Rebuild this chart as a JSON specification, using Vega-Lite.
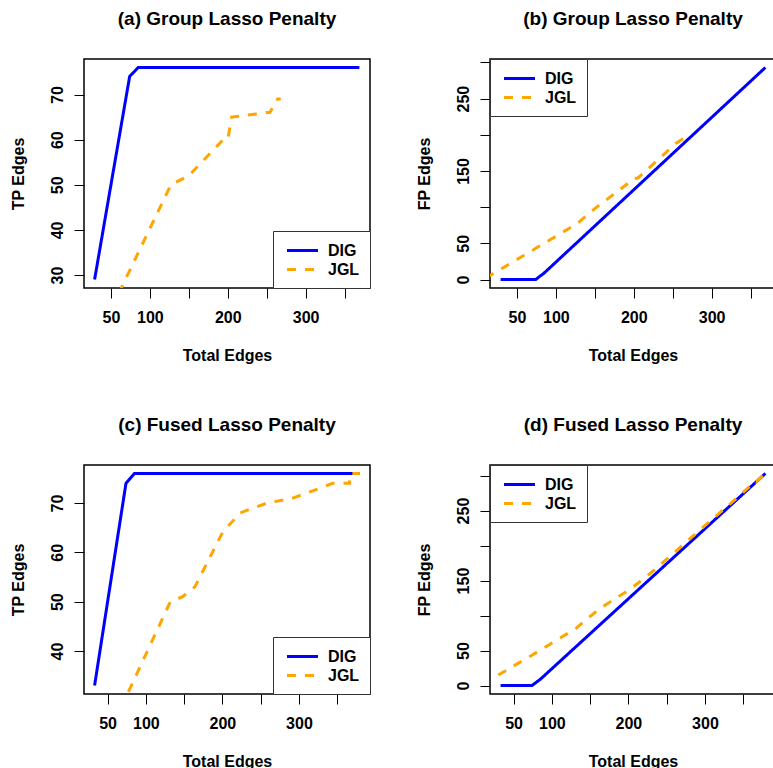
{
  "$schema": "https://vega.github.io/schema/vega-lite/v6.json",
  "padding": {"left": 9, "top": 8, "right": 0, "bottom": 0},
  "background": "white",
  "datasets": {
    "group": [
      {"method": "DIG", "total": 29, "tp": 29, "fp": 0},
      {"method": "DIG", "total": 74, "tp": 74, "fp": 0},
      {"method": "DIG", "total": 85, "tp": 76, "fp": 9},
      {"method": "DIG", "total": 369, "tp": 76, "fp": 293},
      {"method": "JGL", "total": 10, "tp": 8, "fp": 2},
      {"method": "JGL", "total": 127, "tp": 50, "fp": 77},
      {"method": "JGL", "total": 150, "tp": 52, "fp": 98},
      {"method": "JGL", "total": 194, "tp": 60, "fp": 134},
      {"method": "JGL", "total": 200, "tp": 60, "fp": 140},
      {"method": "JGL", "total": 205, "tp": 65, "fp": 140},
      {"method": "JGL", "total": 250, "tp": 66, "fp": 184},
      {"method": "JGL", "total": 254, "tp": 66, "fp": 188},
      {"method": "JGL", "total": 264, "tp": 69, "fp": 195},
      {"method": "JGL", "total": 268, "tp": 69, "fp": 199}
    ],
    "fused": [
      {"method": "DIG", "total": 33, "tp": 33, "fp": 0},
      {"method": "DIG", "total": 74, "tp": 74, "fp": 0},
      {"method": "DIG", "total": 85, "tp": 76, "fp": 9},
      {"method": "DIG", "total": 379, "tp": 76, "fp": 303},
      {"method": "JGL", "total": 30, "tp": 15, "fp": 15},
      {"method": "JGL", "total": 75, "tp": 31, "fp": 44},
      {"method": "JGL", "total": 132, "tp": 50, "fp": 82},
      {"method": "JGL", "total": 148, "tp": 51, "fp": 97},
      {"method": "JGL", "total": 164, "tp": 53, "fp": 111},
      {"method": "JGL", "total": 200, "tp": 64, "fp": 136},
      {"method": "JGL", "total": 223, "tp": 68, "fp": 155},
      {"method": "JGL", "total": 258, "tp": 70, "fp": 188},
      {"method": "JGL", "total": 292, "tp": 71, "fp": 221},
      {"method": "JGL", "total": 327, "tp": 73, "fp": 254},
      {"method": "JGL", "total": 344, "tp": 74, "fp": 270},
      {"method": "JGL", "total": 366, "tp": 74, "fp": 292},
      {"method": "JGL", "total": 367, "tp": 76, "fp": 291},
      {"method": "JGL", "total": 379, "tp": 76, "fp": 303}
    ]
  },
  "columns": 2,
  "spacing": {"row": 177, "column": 120},
  "bounds": "flush",
  "resolve": {
    "scale": {"x": "independent", "y": "independent", "color": "independent", "strokeDash": "independent"},
    "legend": {"color": "independent", "strokeDash": "independent"}
  },
  "concat": [
    {
      "data": {"name": "group"},
      "title": {"text": "(a) Group Lasso Penalty"},
      "width": 286, "height": 229,
      "mark": {"type": "line", "clip": true, "strokeWidth": 3},
      "encoding": {
        "x": {"field": "total", "type": "quantitative", "scale": {"domain": [15.4, 382.6], "nice": false, "zero": false},
              "axis": {"title": "Total Edges", "values": [50, 100, 150, 200, 250, 300, 350], "labelExpr": "datum.value==150||datum.value==250||datum.value==350 ? '' : datum.label"}},
        "y": {"field": "tp", "type": "quantitative", "scale": {"domain": [27.12, 77.88], "nice": false, "zero": false},
              "axis": {"title": "TP Edges", "values": [30, 40, 50, 60, 70]}},
        "color": {"field": "method", "type": "nominal", "scale": {"domain": ["DIG", "JGL"], "range": ["#0000ff", "#ffa500"]}, "legend": {"title": null, "orient": "bottom-right"}},
        "strokeDash": {"field": "method", "type": "nominal", "scale": {"domain": ["DIG", "JGL"], "range": [[1, 0], [9, 9]]}, "legend": {"title": null, "orient": "bottom-right"}}
      }
    },
    {
      "data": {"name": "group"},
      "title": {"text": "(b) Group Lasso Penalty"},
      "width": 286, "height": 229,
      "mark": {"type": "line", "clip": true, "strokeWidth": 3},
      "encoding": {
        "x": {"field": "total", "type": "quantitative", "scale": {"domain": [15.4, 382.6], "nice": false, "zero": false},
              "axis": {"title": "Total Edges", "values": [50, 100, 150, 200, 250, 300, 350], "labelExpr": "datum.value==150||datum.value==250||datum.value==350 ? '' : datum.label"}},
        "y": {"field": "fp", "type": "quantitative", "scale": {"domain": [-11.72, 304.72], "nice": false, "zero": false},
              "axis": {"title": "FP Edges", "values": [0, 50, 100, 150, 200, 250, 300], "labelExpr": "datum.value==100||datum.value==200||datum.value==300 ? '' : datum.label"}},
        "color": {"field": "method", "type": "nominal", "scale": {"domain": ["DIG", "JGL"], "range": ["#0000ff", "#ffa500"]}, "legend": {"title": null, "orient": "top-left"}},
        "strokeDash": {"field": "method", "type": "nominal", "scale": {"domain": ["DIG", "JGL"], "range": [[1, 0], [9, 9]]}, "legend": {"title": null, "orient": "top-left"}}
      }
    },
    {
      "data": {"name": "fused"},
      "title": {"text": "(c) Fused Lasso Penalty"},
      "width": 286, "height": 229,
      "mark": {"type": "line", "clip": true, "strokeWidth": 3},
      "encoding": {
        "x": {"field": "total", "type": "quantitative", "scale": {"domain": [19.16, 392.84], "nice": false, "zero": false},
              "axis": {"title": "Total Edges", "values": [50, 100, 150, 200, 250, 300, 350], "labelExpr": "datum.value==150||datum.value==250||datum.value==350 ? '' : datum.label"}},
        "y": {"field": "tp", "type": "quantitative", "scale": {"domain": [31.28, 77.72], "nice": false, "zero": false},
              "axis": {"title": "TP Edges", "values": [40, 50, 60, 70]}},
        "color": {"field": "method", "type": "nominal", "scale": {"domain": ["DIG", "JGL"], "range": ["#0000ff", "#ffa500"]}, "legend": {"title": null, "orient": "bottom-right"}},
        "strokeDash": {"field": "method", "type": "nominal", "scale": {"domain": ["DIG", "JGL"], "range": [[1, 0], [9, 9]]}, "legend": {"title": null, "orient": "bottom-right"}}
      }
    },
    {
      "data": {"name": "fused"},
      "title": {"text": "(d) Fused Lasso Penalty"},
      "width": 286, "height": 229,
      "mark": {"type": "line", "clip": true, "strokeWidth": 3},
      "encoding": {
        "x": {"field": "total", "type": "quantitative", "scale": {"domain": [19.16, 392.84], "nice": false, "zero": false},
              "axis": {"title": "Total Edges", "values": [50, 100, 150, 200, 250, 300, 350], "labelExpr": "datum.value==150||datum.value==250||datum.value==350 ? '' : datum.label"}},
        "y": {"field": "fp", "type": "quantitative", "scale": {"domain": [-12.12, 315.12], "nice": false, "zero": false},
              "axis": {"title": "FP Edges", "values": [0, 50, 100, 150, 200, 250, 300], "labelExpr": "datum.value==100||datum.value==200||datum.value==300 ? '' : datum.label"}},
        "color": {"field": "method", "type": "nominal", "scale": {"domain": ["DIG", "JGL"], "range": ["#0000ff", "#ffa500"]}, "legend": {"title": null, "orient": "top-left"}},
        "strokeDash": {"field": "method", "type": "nominal", "scale": {"domain": ["DIG", "JGL"], "range": [[1, 0], [9, 9]]}, "legend": {"title": null, "orient": "top-left"}}
      }
    }
  ],
  "config": {
    "font": "Liberation Sans",
    "view": {"stroke": "black", "strokeWidth": 1.5},
    "axis": {"domain": false, "grid": false, "tickColor": "black", "tickSize": 10, "tickWidth": 1,
             "labelFontSize": 16, "labelFontWeight": "bold", "labelColor": "black", "labelFlush": false, "labelOverlap": false,
             "titleFontSize": 16, "titleFontWeight": "bold", "titleColor": "black"},
    "axisX": {"labelPadding": 11, "titlePadding": 22},
    "axisY": {"labelAngle": 270, "labelAlign": "center", "labelBaseline": "alphabetic", "labelPadding": 12, "titlePadding": 23},
    "title": {"fontSize": 19, "fontWeight": "bold", "color": "black", "offset": 30, "frame": "group", "anchor": "middle"},
    "legend": {"offset": 0, "padding": 10, "strokeColor": "#333", "fillColor": "white", "cornerRadius": 0,
               "labelFontSize": 16, "labelFontWeight": "bold", "labelColor": "black",
               "symbolType": "M-1.94,0H1.94", "symbolSize": 256, "symbolStrokeWidth": 3,
               "symbolOffset": 10, "labelOffset": 16, "rowPadding": 1}
  }
}
